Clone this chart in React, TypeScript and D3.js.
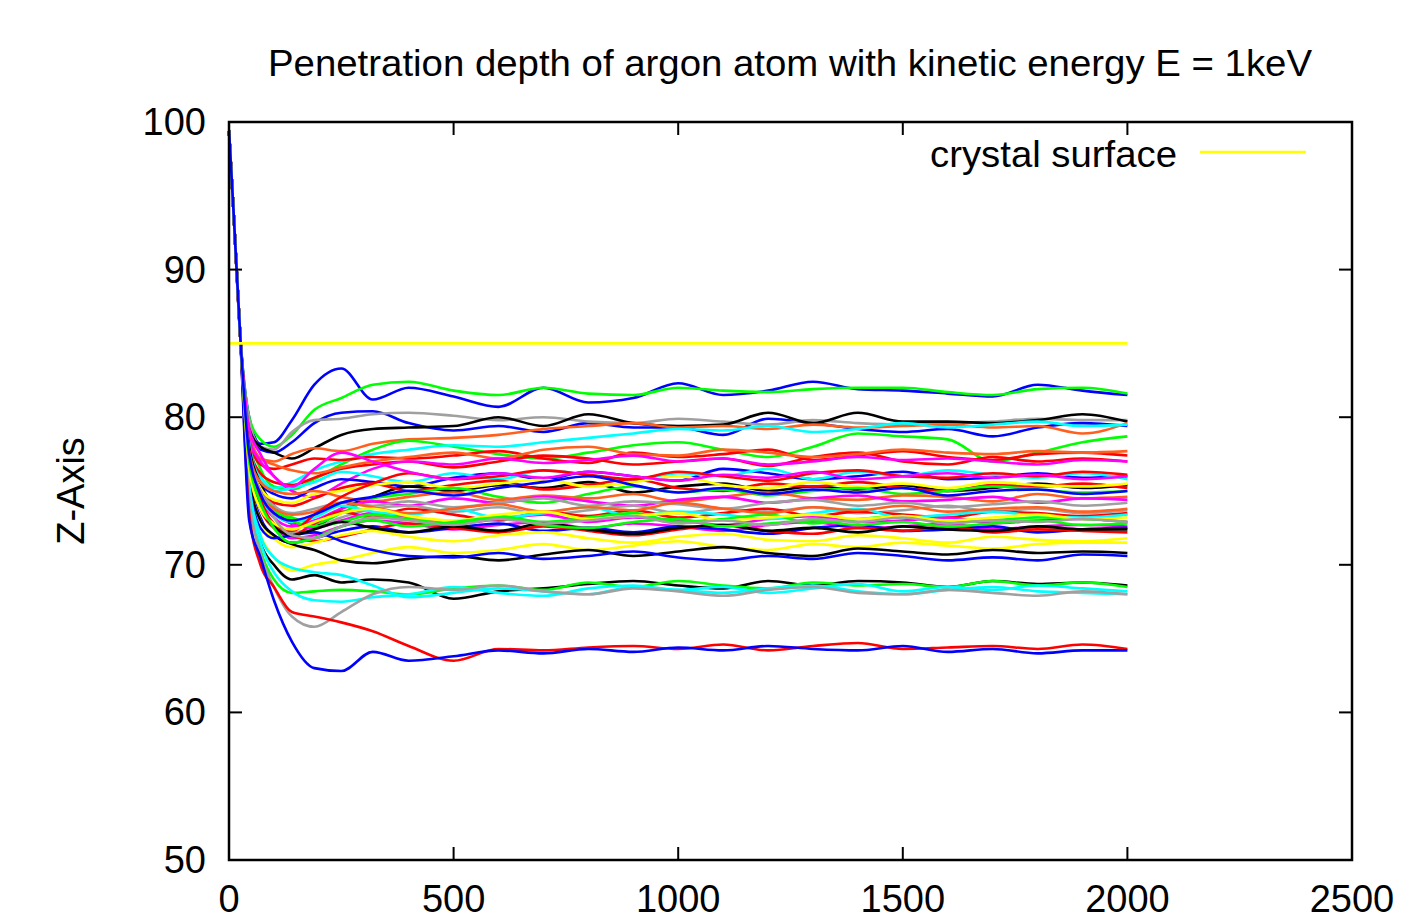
import React from 'react'
import * as d3 from 'd3'

const approachT = [0, 10, 25]
const approachZ = [99.4, 94, 85.5]
const timeSteps = [45, 70, 100, 140, 190, 250, 320, 400, 500, 600, 700, 800, 900, 1000, 1100, 1200, 1300, 1400, 1500, 1600, 1700, 1800, 1900, 2000]

const xTicks = [0, 500, 1000, 1500, 2000, 2500]
const yTicks = [50, 60, 70, 80, 90, 100]

const surfaceZ = 85
const surfaceSpan = [0, 2000]

// gnuplot line colours
const RED = '#ff0000', GREEN = '#00ff00', BLUE = '#0000ff', MAGENTA = '#ff00ff', CYAN = '#00ffff'
const ORANGE = '#ff6020', BLACK = '#000000', GRAY = '#a0a0a0', YELLOW = '#ffff00'

const run01 = [80, 78.2, 78.3, 79.8, 82.2, 83.3, 81.2, 82.0, 81.4, 80.7, 82.0, 81.0, 81.3, 82.3, 81.5, 81.8, 82.4, 81.9, 81.8, 81.6, 81.4, 82.2, 81.8, 81.5]
const run02 = [80, 78.5, 78.0, 78.8, 80.5, 81.3, 82.2, 82.4, 81.8, 81.5, 82.0, 81.6, 81.5, 82.0, 81.8, 81.7, 81.9, 82.0, 82.0, 81.7, 81.5, 81.9, 82.0, 81.6]
const run03 = [79.5, 77.8, 77.6, 78.3, 79.6, 80.3, 80.4, 79.6, 79.1, 79.4, 79.0, 79.6, 79.3, 79.3, 78.8, 79.9, 79.6, 79.2, 79.0, 79.2, 78.7, 79.3, 79.6, 79.4]
const run04 = [79.8, 78.0, 77.8, 79.0, 79.8, 79.9, 80.2, 80.3, 80.1, 79.8, 80.0, 79.7, 79.6, 79.9, 79.7, 79.5, 79.8, 79.6, 79.5, 79.6, 79.7, 79.9, 79.8, 79.8]
const run05 = [79.2, 78.0, 77.6, 77.2, 77.9, 78.8, 79.2, 79.3, 79.4, 80.0, 79.4, 80.2, 79.6, 79.4, 79.5, 80.3, 79.6, 80.3, 79.7, 79.7, 79.6, 79.8, 80.2, 79.7]
const run06 = [79, 77.2, 77.0, 77.5, 77.9, 77.7, 78.2, 78.5, 78.6, 78.8, 79.2, 79.4, 79.6, 79.3, 79.4, 79.2, 79.5, 79.3, 79.4, 79.5, 79.3, 79.4, 78.9, 79.6]
const run07 = [79, 76.5, 75.3, 75.1, 75.8, 76.8, 77.8, 78.4, 78.0, 77.5, 77.2, 77.6, 78.1, 78.3, 77.8, 77.3, 78.0, 78.9, 78.7, 78.5, 77.0, 77.6, 78.3, 78.7]
const run08 = [78.5, 76.0, 75.2, 75.6, 76.4, 77.0, 77.5, 77.8, 78.1, 78.0, 78.3, 78.6, 78.9, 79.2, 79.1, 79.4, 79.0, 79.2, 79.6, 79.3, 79.5, 79.7, 79.4, 79.5]
const run09 = [78.5, 76.8, 76.5, 76.8, 77.2, 77.1, 77.3, 77.2, 77.4, 77.7, 77.2, 76.9, 77.6, 77.3, 77.5, 77.8, 77.1, 77.4, 77.7, 77.3, 77.1, 77.5, 77.6, 77.4]
const run10 = [78, 76.2, 75.6, 75.4, 75.9, 76.5, 76.8, 77.0, 76.6, 77.0, 77.4, 77.2, 76.8, 77.0, 77.2, 76.7, 77.3, 77.6, 77.0, 76.8, 77.3, 77.0, 77.2, 77.0]
const run11 = [78.8, 77.2, 76.8, 76.4, 76.2, 76.6, 77.0, 77.3, 77.6, 77.2, 77.8, 78.0, 77.5, 77.4, 77.8, 77.6, 77.3, 77.5, 77.8, 77.6, 77.5, 77.7, 77.6, 77.7]
const run12 = [78.5, 77.0, 76.0, 75.0, 74.6, 75.5, 76.5, 77.0, 76.8, 77.2, 76.9, 77.1, 77.4, 77.0, 77.2, 76.8, 77.0, 77.3, 77.1, 77.2, 77.0, 76.8, 77.1, 77.0]
const run13 = [78, 75.5, 74.8, 74.5, 75.2, 75.8, 75.6, 75.3, 75.9, 76.2, 75.8, 76.3, 76.0, 75.7, 76.5, 76.2, 75.8, 76.0, 76.3, 75.8, 75.9, 76.2, 75.9, 76.0]
const run14 = [78.2, 75.8, 75.0, 75.2, 75.6, 76.3, 76.0, 75.6, 76.2, 75.8, 76.4, 76.1, 75.7, 76.2, 76.0, 76.5, 75.8, 76.3, 76.0, 76.4, 76.1, 75.9, 76.2, 75.8]
const run15 = [78, 75.5, 74.0, 72.8, 72.6, 73.8, 74.6, 75.3, 75.0, 75.4, 75.2, 75.6, 74.9, 75.3, 75.5, 75.0, 75.3, 75.1, 75.4, 75.0, 75.2, 75.5, 75.2, 75.4]
const run16 = [77.5, 75.0, 74.2, 74.0, 74.5, 75.2, 75.5, 75.0, 75.4, 75.7, 75.1, 75.4, 75.8, 75.2, 75.0, 75.5, 75.3, 75.6, 75.2, 75.0, 75.4, 75.3, 75.5, 75.2]
const run17 = [77.5, 75.2, 74.4, 74.2, 74.8, 75.0, 75.4, 75.6, 75.2, 75.5, 75.8, 75.3, 75.6, 76.0, 75.4, 75.2, 75.6, 75.3, 75.5, 75.2, 75.6, 75.4, 75.3, 75.5]
const run18 = [77, 74.5, 73.6, 73.2, 72.8, 73.5, 74.5, 74.8, 75.2, 74.6, 74.2, 74.8, 75.3, 74.9, 75.1, 74.7, 75.0, 75.2, 74.8, 75.0, 75.3, 75.1, 74.9, 75.0]
const run19 = [77.6, 75.6, 75.0, 74.8, 75.0, 74.6, 74.3, 74.6, 74.9, 74.4, 74.7, 74.5, 74.8, 74.3, 74.6, 74.9, 74.5, 74.4, 74.7, 74.6, 74.3, 74.8, 74.5, 74.6]
const run20 = [77, 74.5, 73.2, 72.6, 73.0, 73.8, 74.3, 74.0, 74.5, 74.2, 74.6, 74.3, 74.0, 74.4, 74.6, 74.2, 74.5, 74.7, 74.3, 74.4, 74.6, 74.2, 74.5, 74.4]
const run21 = [76.8, 74.2, 72.8, 72.2, 72.5, 73.2, 73.8, 74.0, 73.6, 73.9, 73.4, 73.7, 74.0, 73.5, 73.8, 73.6, 73.9, 73.5, 73.7, 74.0, 73.6, 73.8, 73.5, 73.7]
const run22 = [77.2, 75.0, 74.0, 73.5, 73.8, 74.2, 74.0, 74.3, 73.9, 74.2, 74.5, 74.0, 74.3, 74.1, 73.8, 74.2, 74.4, 74.0, 74.2, 73.9, 74.1, 74.3, 74.0, 74.2]
const run23 = [76.5, 73.8, 72.5, 72.0, 72.8, 73.6, 73.2, 73.8, 73.4, 73.0, 73.6, 73.3, 73.7, 73.2, 73.5, 73.8, 73.3, 73.6, 73.4, 73.2, 73.6, 73.5, 73.3, 73.5]
const run24 = [77.5, 75.0, 73.5, 72.8, 72.5, 73.0, 73.5, 73.2, 72.8, 73.1, 73.4, 72.9, 73.2, 73.0, 72.7, 73.1, 73.3, 72.9, 73.0, 73.2, 72.8, 73.0, 73.1, 72.9]
const run25 = [76.8, 74.0, 72.6, 71.8, 72.0, 72.6, 73.0, 72.8, 72.4, 72.7, 72.9, 72.5, 72.8, 72.6, 72.3, 72.7, 72.9, 72.5, 72.6, 72.8, 72.4, 72.6, 72.7, 72.6]
const run26 = [77, 74.6, 73.4, 72.9, 73.2, 74.0, 73.6, 73.4, 73.8, 73.2, 73.5, 73.9, 73.3, 73.6, 73.4, 73.1, 73.5, 73.8, 73.2, 73.4, 73.6, 73.3, 73.2, 73.4]
const run27 = [77.2, 74.8, 73.8, 73.0, 72.6, 72.9, 73.4, 73.1, 72.8, 73.3, 72.9, 73.2, 73.5, 72.9, 73.1, 73.4, 72.8, 73.1, 73.3, 72.9, 73.0, 73.2, 73.1, 72.9]
const run28 = [76.2, 73.2, 72.0, 71.5, 71.8, 72.3, 72.6, 72.2, 72.5, 72.8, 72.3, 72.5, 72.2, 72.6, 72.4, 72.1, 72.5, 72.7, 72.3, 72.4, 72.6, 72.2, 72.4, 72.5]
const run29 = [76.5, 73.8, 72.6, 72.0, 71.6, 71.9, 72.4, 72.8, 72.5, 72.2, 72.6, 72.3, 72.0, 72.4, 72.7, 72.3, 72.1, 72.5, 72.3, 72.6, 72.2, 72.4, 72.3, 72.2]
const run30 = [76, 73.0, 71.8, 71.2, 71.5, 72.0, 72.3, 71.9, 71.6, 72.0, 72.2, 71.8, 71.5, 71.9, 72.1, 71.7, 71.6, 72.0, 71.8, 71.5, 71.9, 71.7, 71.6, 71.8]
const run31 = [74.5, 72.0, 70.5, 69.6, 70.0, 70.3, 70.8, 71.2, 70.8, 71.0, 71.4, 71.0, 71.3, 71.6, 71.2, 71.0, 71.4, 71.2, 71.5, 71.3, 71.1, 71.4, 71.5, 71.5]
const run32 = [76, 73.0, 72.0, 71.4, 71.0, 70.3, 70.1, 70.4, 70.6, 70.3, 70.7, 71.0, 70.6, 70.9, 71.2, 70.8, 70.6, 71.1, 70.9, 70.7, 71.0, 70.8, 70.9, 70.8]
const run33 = [75.5, 72.5, 71.8, 72.0, 72.2, 71.6, 71.0, 70.6, 70.5, 70.8, 70.4, 70.6, 70.9, 70.5, 70.3, 70.6, 70.4, 70.8, 70.6, 70.3, 70.5, 70.3, 70.7, 70.6]
const run34 = [75, 71.5, 70.0, 69.0, 69.3, 68.8, 69.0, 68.8, 67.7, 68.2, 68.4, 68.7, 68.9, 68.6, 68.4, 68.9, 68.6, 68.9, 68.8, 68.5, 68.9, 68.7, 68.8, 68.6]
const run35 = [74.5, 71.0, 69.0, 68.1, 68.2, 68.3, 68.2, 68.0, 68.4, 68.6, 68.3, 68.8, 68.5, 68.9, 68.6, 68.4, 68.8, 68.6, 68.7, 68.5, 68.9, 68.6, 68.8, 68.5]
const run36 = [75, 71.5, 69.5, 68.2, 67.6, 67.5, 67.8, 68.0, 68.5, 68.1, 67.9, 68.4, 68.6, 68.3, 68.5, 68.1, 68.4, 68.7, 68.2, 68.5, 68.3, 68.6, 68.4, 68.2]
const run37 = [75.5, 72.0, 70.5, 69.8, 69.5, 69.3, 68.6, 67.8, 68.1, 68.4, 68.2, 68.0, 68.5, 68.3, 68.1, 68.4, 68.6, 68.2, 68.0, 68.3, 68.5, 68.2, 68.1, 68.0]
const run38 = [74.5, 70.8, 68.5, 66.5, 65.8, 66.8, 68.0, 68.5, 68.3, 68.6, 68.2, 68.0, 68.4, 68.2, 67.9, 68.3, 68.5, 68.1, 68.0, 68.3, 68.1, 67.9, 68.2, 68.0]
const run39 = [73.5, 70.0, 68.5, 66.8, 66.5, 66.1, 65.5, 64.5, 63.5, 64.3, 64.2, 64.4, 64.5, 64.3, 64.6, 64.2, 64.5, 64.7, 64.3, 64.4, 64.5, 64.3, 64.6, 64.3]
const run40 = [73, 70.5, 67.6, 64.8, 63.0, 62.8, 64.1, 63.5, 63.8, 64.2, 64.0, 64.3, 64.1, 64.4, 64.2, 64.5, 64.3, 64.2, 64.5, 64.1, 64.3, 64.0, 64.2, 64.2]
const run41 = [77, 74.8, 73.8, 73.4, 73.6, 74.2, 73.9, 73.5, 73.8, 74.1, 73.6, 73.9, 73.7, 74.2, 73.8, 73.5, 73.9, 73.7, 74.0, 73.6, 73.8, 73.9, 73.6, 73.8]
const run42 = [77.6, 74.5, 72.8, 72.3, 73.4, 74.6, 75.5, 76.2, 75.8, 76.0, 76.4, 76.1, 75.8, 76.3, 76.0, 75.7, 76.2, 76.4, 76.0, 75.9, 76.2, 76.0, 76.3, 76.1]
const run43 = [76.8, 74.0, 72.6, 72.0, 72.4, 72.9, 72.5, 72.2, 72.6, 72.3, 72.8, 72.4, 72.1, 72.5, 72.7, 72.3, 72.5, 72.2, 72.6, 72.4, 72.3, 72.6, 72.4, 72.4]
const run44 = [79.2, 77.5, 76.0, 75.3, 76.5, 77.6, 77.0, 76.3, 75.8, 76.2, 75.9, 76.3, 76.0, 75.7, 76.1, 75.9, 76.3, 75.8, 76.0, 76.2, 75.9, 76.1, 75.8, 76.0]
const run45 = [76.5, 73.8, 72.8, 72.4, 72.9, 73.5, 73.8, 73.3, 73.0, 73.4, 73.6, 73.1, 73.3, 73.5, 73.0, 73.2, 73.4, 73.1, 73.3, 73.0, 73.2, 73.4, 73.1, 73.2]
const run46 = [77, 74.2, 72.5, 71.5, 71.8, 72.6, 73.0, 72.6, 72.9, 73.2, 72.7, 72.5, 72.9, 73.1, 72.6, 72.8, 73.0, 72.7, 72.9, 72.6, 72.8, 73.0, 72.7, 72.8]
const run47 = [77.4, 75.0, 73.2, 72.0, 71.8, 72.6, 73.2, 73.0, 72.7, 73.1, 72.8, 73.0, 73.3, 72.8, 73.0, 72.7, 73.1, 72.9, 73.2, 72.8, 73.0, 72.9, 73.1, 72.9]
const run48 = [77.5, 74.8, 73.5, 73.0, 73.4, 74.2, 74.6, 75.0, 74.7, 75.2, 75.6, 76.0, 75.4, 74.9, 75.2, 74.8, 75.1, 74.9, 75.2, 74.7, 75.0, 75.1, 74.8, 75.0]

const runs = [
  run01, run02, run03, run04, run05, run06, run07, run08, run09, run10, run11, run12,
  run13, run14, run15, run16, run17, run18, run19, run20, run21, run22, run23, run24,
  run25, run26, run27, run28, run29, run30, run31, run32, run33, run34, run35, run36,
  run37, run38, run39, run40, run41, run42, run43, run44, run45, run46, run47, run48,
]
const runColors = [
  BLUE, GREEN, BLUE, GRAY, BLACK, ORANGE, GREEN, CYAN, RED, RED, ORANGE, MAGENTA,
  BLUE, CYAN, BLACK, RED, YELLOW, GREEN, ORANGE, MAGENTA, GRAY, GRAY, RED, MAGENTA,
  MAGENTA, CYAN, GREEN, BLUE, RED, YELLOW, YELLOW, BLACK, BLUE, BLACK, GREEN, CYAN,
  CYAN, GRAY, RED, BLUE, ORANGE, RED, BLACK, MAGENTA, YELLOW, GREEN, GRAY, BLUE,
]

const W = 1411, H = 919
const left = 229, right = 1352, top = 122, bottom = 860
const tickLen = 13
const font = '"Liberation Sans", Arial, Helvetica, sans-serif'

export default function App() {
  const x = d3.scaleLinear().domain([0, 2500]).range([left, right])
  const y = d3.scaleLinear().domain([50, 100]).range([bottom, top])

  const line = d3.line<[number, number]>()
    .x(d => x(d[0]))
    .y(d => y(d[1]))
    .curve(d3.curveMonotoneX)

  const allT = approachT.concat(timeSteps)
  const paths = runs.map(r => {
    const zs = approachZ.concat(r)
    return line(allT.map((t, i) => [t, zs[i]] as [number, number])) || ''
  })

  return (
    <svg width={W} height={H} style={{ position: 'absolute', left: 0, top: 0, background: '#fff' }}
         fontFamily={font}>
      <rect x={0} y={0} width={W} height={H} fill="#fff" />
      <text x={790} y={76} textAnchor="middle" fontSize={37} textLength={1044}
            lengthAdjust="spacingAndGlyphs">
        Penetration depth of argon atom with kinetic energy E = 1keV
      </text>

      <g>
        {paths.map((d, i) => (
          <path key={i} d={d} fill="none" stroke={runColors[i]} strokeWidth={2.6}
                strokeLinejoin="round" />
        ))}
      </g>

      <line x1={x(surfaceSpan[0])} x2={x(surfaceSpan[1])} y1={y(surfaceZ)} y2={y(surfaceZ)}
            stroke={YELLOW} strokeWidth={2.6} />

      {/* legend */}
      <text x={1177} y={167} textAnchor="end" fontSize={37} textLength={247}
            lengthAdjust="spacingAndGlyphs">crystal surface</text>
      <line x1={1200} x2={1306} y1={152} y2={152} stroke={YELLOW} strokeWidth={2.6} />

      {/* ticks, mirrored on all sides */}
      <g stroke="#000" strokeWidth={2}>
        {xTicks.map(t => (
          <g key={'x' + t}>
            <line x1={x(t)} x2={x(t)} y1={bottom} y2={bottom - tickLen} />
            <line x1={x(t)} x2={x(t)} y1={top} y2={top + tickLen} />
          </g>
        ))}
        {yTicks.map(t => (
          <g key={'y' + t}>
            <line x1={left} x2={left + tickLen} y1={y(t)} y2={y(t)} />
            <line x1={right} x2={right - tickLen} y1={y(t)} y2={y(t)} />
          </g>
        ))}
      </g>
      <rect x={left} y={top} width={right - left} height={bottom - top} fill="none"
            stroke="#000" strokeWidth={2.5} />

      <g fontSize={38}>
        {xTicks.map(t => (
          <text key={'xl' + t} x={x(t)} y={bottom + 52} textAnchor="middle">{t}</text>
        ))}
        {yTicks.map(t => (
          <text key={'yl' + t} x={206} y={y(t) + 13} textAnchor="end">{t}</text>
        ))}
      </g>

      <text transform="translate(84,491) rotate(-90)" textAnchor="middle" fontSize={38}>Z-Axis</text>
    </svg>
  )
}
